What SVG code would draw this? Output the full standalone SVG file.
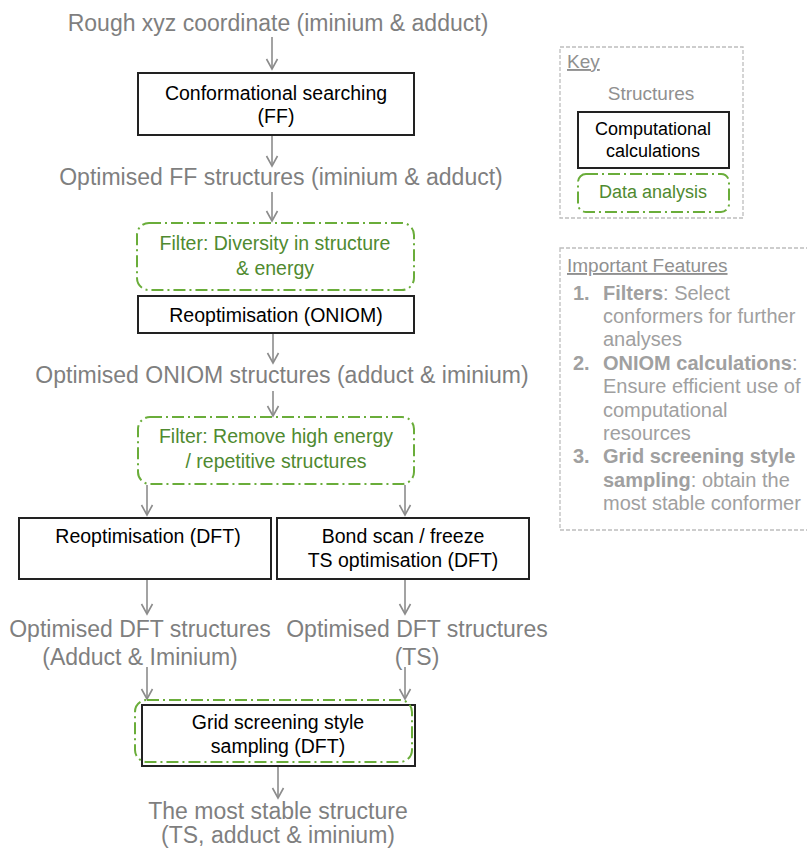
<svg xmlns="http://www.w3.org/2000/svg" width="807" height="849" viewBox="0 0 807 849">
<style>
text{font-family:"Liberation Sans",Arial,sans-serif}
.g{fill:#7f7f7f;font-size:23px;text-anchor:middle}
.b{fill:#000;font-size:19.5px;text-anchor:middle}
.gr{fill:#4f8a30;font-size:19.5px;text-anchor:middle}
.box{fill:#fff;stroke:#222;stroke-width:2}
.flt{fill:none;stroke:#6aad3a;stroke-width:2;stroke-dasharray:12 4 2 4}
.con{stroke:#8c8c8c;stroke-width:1.6;fill:none;marker-end:url(#arr)}
.key{fill:none;stroke:#bdbdbd;stroke-width:1.3;stroke-dasharray:4 2}
.kt{fill:#909090;font-size:19px}
.ft{fill:#a0a0a0;font-size:20px}
</style>
<defs>
<marker id="arr" markerUnits="userSpaceOnUse" markerWidth="14" markerHeight="14" viewBox="0 0 14 14" refX="12" refY="7" orient="auto">
<path d="M2,1.5 L12,7 L2,12.5" fill="none" stroke="#8c8c8c" stroke-width="1.6"/>
</marker>
</defs>
<rect width="807" height="849" fill="#fff"/>

<g id="connectors">
<line class="con" x1="272" y1="37" x2="272" y2="69"/>
<line class="con" x1="272" y1="135" x2="272" y2="166"/>
<line class="con" x1="272" y1="192" x2="272" y2="221"/>
<line class="con" x1="273" y1="333" x2="273" y2="363"/>
<line class="con" x1="273" y1="391" x2="273" y2="416"/>
<line class="con" x1="147" y1="485" x2="147" y2="515"/>
<line class="con" x1="405" y1="485" x2="405" y2="515"/>
<line class="con" x1="147" y1="580" x2="147" y2="614"/>
<line class="con" x1="405" y1="580" x2="405" y2="614"/>
<line class="con" x1="147" y1="667" x2="147" y2="699"/>
<line class="con" x1="405" y1="667" x2="405" y2="699"/>
<line class="con" x1="278" y1="767" x2="278" y2="798"/>
</g>

<g id="n-rough"><text class="g" x="278" y="31">Rough xyz coordinate (iminium &amp; adduct)</text></g>

<g id="n-conf">
<rect class="box" x="138" y="73" width="276" height="62"/>
<text class="b" x="276" y="100">Conformational searching</text>
<text class="b" x="276" y="123">(FF)</text>
</g>

<g id="n-optff"><text class="g" x="281" y="185">Optimised FF structures (iminium &amp; adduct)</text></g>

<g id="n-filter1">
<rect class="flt" x="137" y="223" width="277" height="67" rx="12"/>
<text class="gr" x="275" y="250">Filter: Diversity in structure</text>
<text class="gr" x="275" y="275">&amp; energy</text>
</g>

<g id="n-oniom">
<rect class="box" x="138" y="296" width="276" height="37"/>
<text class="b" x="276" y="322">Reoptimisation (ONIOM)</text>
</g>

<g id="n-optoniom"><text class="g" x="282" y="383">Optimised ONIOM structures (adduct &amp; iminium)</text></g>

<g id="n-filter2">
<rect class="flt" x="138" y="417" width="276" height="67" rx="12"/>
<text class="gr" x="276" y="443">Filter: Remove high energy</text>
<text class="gr" x="276" y="468">/ repetitive structures</text>
</g>

<g id="n-dft">
<rect class="box" x="19" y="518" width="252" height="61"/>
<text class="b" x="148" y="543">Reoptimisation (DFT)</text>
</g>

<g id="n-ts">
<rect class="box" x="277" y="518" width="252" height="61"/>
<text class="b" x="403" y="543">Bond scan / freeze</text>
<text class="b" x="403" y="567">TS optimisation (DFT)</text>
</g>

<g id="n-optdft">
<text class="g" x="140" y="637">Optimised DFT structures</text>
<text class="g" x="140" y="665">(Adduct &amp; Iminium)</text>
</g>

<g id="n-optts">
<text class="g" x="417" y="637">Optimised DFT structures</text>
<text class="g" x="417" y="665">(TS)</text>
</g>

<g id="n-grid">
<rect class="box" x="142" y="705" width="273" height="61"/>
<rect class="flt" x="135" y="700" width="277" height="62" rx="12"/>
<text class="b" x="278" y="729">Grid screening style</text>
<text class="b" x="278" y="753">sampling (DFT)</text>
</g>

<g id="n-stable">
<text class="g" x="278" y="819">The most stable structure</text>
<text class="g" x="278" y="843">(TS, adduct &amp; iminium)</text>
</g>

<g id="key">
<rect class="key" x="560" y="47" width="183" height="171"/>
<text class="kt" x="567" y="68" text-decoration="underline">Key </text>
<text class="kt" x="651" y="100" text-anchor="middle">Structures</text>
<rect class="box" x="578" y="112" width="151" height="56"/>
<text x="653" y="135" font-size="18" text-anchor="middle" fill="#000">Computational</text>
<text x="653" y="157" font-size="18" text-anchor="middle" fill="#000">calculations</text>
<rect class="flt" x="578" y="174" width="151" height="38" rx="8"/>
<text x="653" y="198" font-size="18" text-anchor="middle" fill="#4f8a30">Data analysis</text>
</g>

<g id="features">
<rect class="key" x="560" y="248" width="260" height="282"/>
<text class="kt" x="567" y="272" text-decoration="underline">Important Features </text>
<text class="ft" x="573" y="300"><tspan font-weight="bold">1.</tspan><tspan x="603" font-weight="bold">Filters</tspan>: Select</text>
<text class="ft" x="603" y="323">conformers for further</text>
<text class="ft" x="603" y="346">analyses</text>
<text class="ft" x="573" y="370"><tspan font-weight="bold">2.</tspan><tspan x="603" font-weight="bold">ONIOM calculations</tspan>:</text>
<text class="ft" x="603" y="393">Ensure efficient use of</text>
<text class="ft" x="603" y="417">computational</text>
<text class="ft" x="603" y="440">resources</text>
<text class="ft" x="573" y="463"><tspan font-weight="bold">3.</tspan><tspan x="603" font-weight="bold">Grid screening style</tspan></text>
<text class="ft" x="603" y="487"><tspan font-weight="bold">sampling</tspan>: obtain the</text>
<text class="ft" x="603" y="510">most stable conformer</text>
</g>
</svg>
